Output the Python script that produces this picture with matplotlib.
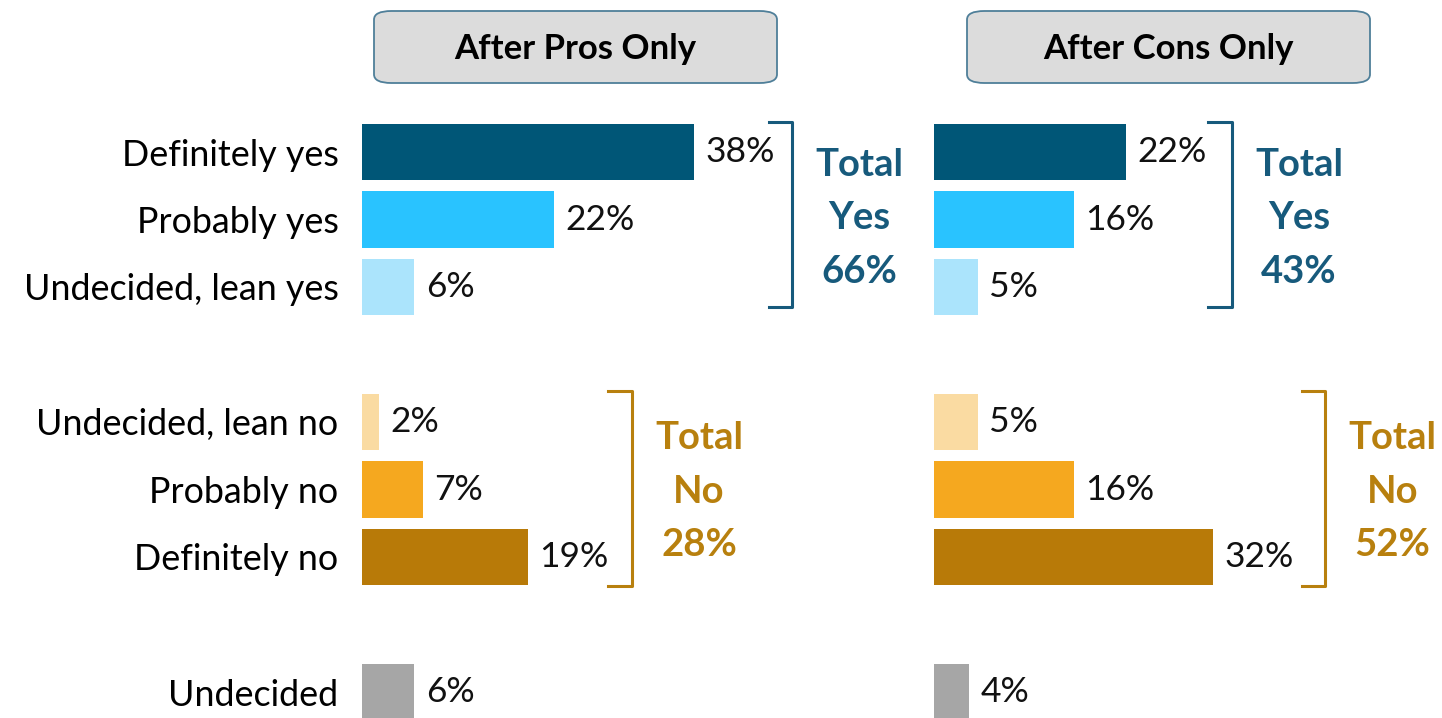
import matplotlib.pyplot as plt
from matplotlib.patches import FancyBboxPatch

plt.rcParams['font.family'] = ['Lato', 'DejaVu Sans']

categories = ['Definitely yes', 'Probably yes', 'Undecided, lean yes',
              'Undecided, lean no', 'Probably no', 'Definitely no', 'Undecided']
pros = [38, 22, 6, 2, 7, 19, 6]
cons = [22, 16, 5, 5, 16, 32, 4]
panel_titles = ['After Pros Only', 'After Cons Only']
total_yes = [66, 43]
total_no = [28, 52]

colors = ['#005677', '#29C3FF', '#ABE4FC', '#FADBA2', '#F5A81F', '#B87A08', '#A6A6A6']
yes_col = '#175A7C'
no_col = '#B8800E'

# row slots (gap rows between groups)
slots = [0, 1, 2, 4, 5, 6, 8]

W, H = 1442, 718
fig = plt.figure(figsize=(W / 100, H / 100), dpi=100)

px_per_pct = 8.73
row_px = 67.5
y_top = -1.5
y_bot = (H - 152) / row_px
ax_h = (y_bot - y_top) * row_px / H

def make_ax(x0_px, xmax):
    ax = fig.add_axes([x0_px / W, 0, xmax * px_per_pct / W, ax_h])
    ax.set_xlim(0, xmax)
    ax.set_ylim(y_bot, y_top)
    for s in ax.spines.values():
        s.set_visible(False)
    ax.set_xticks([])
    return ax

def bracket(ax, x, y0, y1, col):
    ax.plot([x - 2.7, x, x, x - 2.7], [y0, y0, y1, y1], color=col, lw=2.2,
            solid_joinstyle='round', clip_on=False)

def draw_panel(ax, vals, ty, tn, title, box_x, gap):
    ax.barh(slots, vals, height=0.83, color=colors)
    for s, v in zip(slots, vals):
        ax.text(v + 1.3, s, f'{v}%', va='center', ha='left', fontsize=25.5, color='#111111')
    bx = max(vals[:3]) + gap[0]
    bracket(ax, bx, -0.44, 2.3, yes_col)
    ax.text(bx + 7.7, 0.98, f'Total\nYes\n{ty}%', ha='center', va='center', color=yes_col,
            fontsize=27.5, fontweight='bold', linespacing=1.7)
    bx = max(vals[3:6]) + gap[1]
    bracket(ax, bx, 3.54, 6.43, no_col)
    ax.text(bx + 7.7, 5.03, f'Total\nNo\n{tn}%', ha='center', va='center', color=no_col,
            fontsize=27.5, fontweight='bold', linespacing=1.7)
    # header box
    box = FancyBboxPatch((box_x / W, 1 - 83 / H), 403 / W, 72 / H,
                         boxstyle='round,pad=0,rounding_size=0.012',
                         transform=fig.transFigure, facecolor='#DCDCDC',
                         edgecolor='#4F7F99', lw=1.3)
    fig.patches.append(box)
    fig.text((box_x + 201) / W, 1 - 49 / H, title, ha='center', va='center',
             fontsize=25, fontweight='bold', color='black')

ax1 = make_ax(362, 64)
ax1.set_yticks(slots, categories, fontsize=25.8)
ax1.tick_params(axis='y', length=0, pad=17)
draw_panel(ax1, pros, total_yes[0], total_no[0], panel_titles[0], 374, (11.3, 11.9))

ax2 = make_ax(934, 58)
ax2.set_yticks([])
draw_panel(ax2, cons, total_yes[1], total_no[1], panel_titles[1], 967, (12.1, 12.8))

fig.savefig('out.png', dpi=100)
